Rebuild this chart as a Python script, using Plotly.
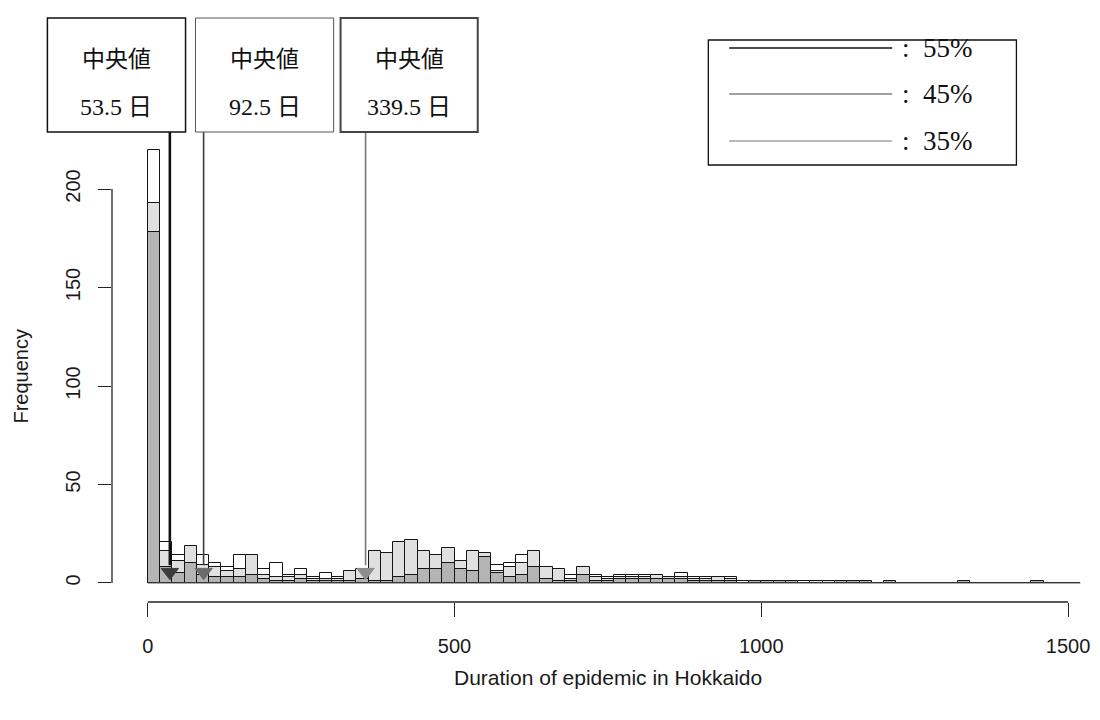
import plotly.graph_objects as go

# ---------------- data ----------------
bin_width = 20
bin_starts = list(range(0, 1520, 20))          # 76 bins, 0..1520

# three overlaid histograms (drawn in this order; later ones cover earlier ones)
freq_white = [220, 21, 14, 12, 14, 10, 8, 14, 8, 7,
              10, 4, 7, 3, 5, 3, 4, 3, 3, 2,
              4, 5, 3, 3, 4, 3, 3, 4, 9, 10,
              14, 6, 4, 3, 4, 3, 4, 3, 4, 4,
              4, 3, 3, 5, 3, 3, 3, 3, 1, 1,
              1, 1, 0, 1, 1, 1, 1, 0, 0, 0,
              0, 0, 0, 0, 0, 0, 0, 0, 0, 0,
              0, 0, 0, 0, 0, 0]
freq_light = [193, 16, 11, 19, 9, 8, 6, 7, 14, 4,
              3, 3, 4, 2, 2, 2, 6, 7, 16, 15,
              21, 22, 16, 14, 18, 11, 16, 15, 6, 8,
              10, 16, 8, 7, 2, 8, 3, 2, 3, 3,
              3, 4, 3, 3, 2, 2, 3, 2, 0, 0,
              0, 0, 0, 0, 1, 1, 0, 0, 0, 0,
              0, 0, 0, 0, 0, 0, 0, 0, 0, 0,
              0, 0, 0, 0, 0, 0]
freq_dark = [178, 8, 5, 10, 4, 3, 3, 3, 4, 2,
             1, 1, 2, 1, 1, 1, 1, 2, 1, 1,
             3, 4, 7, 7, 10, 7, 6, 13, 5, 3,
             4, 8, 2, 1, 1, 4, 1, 1, 2, 2,
             2, 2, 2, 2, 1, 1, 1, 1, 0, 1,
             1, 1, 1, 0, 0, 0, 1, 1, 1, 0,
             1, 0, 0, 0, 0, 0, 1, 0, 0, 0,
             0, 0, 1, 0, 0, 0]

median_title = "中央値"
median_labels = ["53.5 日", "92.5 日", "339.5 日"]
arrow_x = [36, 91, 355]                      # where the arrows point on the x axis
legend_labels = [": 55%", ": 45%", ": 35%"]
x_ticks = [0, 500, 1000, 1500]
y_ticks = [0, 50, 100, 150, 200]
x_title = "Duration of epidemic in Hokkaido"
y_title = "Frequency"

# ---------------- layout geometry ----------------
W, H = 1100, 720
ML, MR, MT, MB = 112, 10, 10, 118
PW, PH = W - ML - MR, H - MT - MB
X_RANGE = [-58.3, 1525.9]
Y_RANGE = [-9.65, 290.9]


def px(xpix):
    return (xpix - ML) / PW


def py(ypix):
    return (H - MB - ypix) / PH


def vx(v):
    return (v - X_RANGE[0]) / (X_RANGE[1] - X_RANGE[0])


def vy(v):
    return (v - Y_RANGE[0]) / (Y_RANGE[1] - Y_RANGE[0])


centers = [s + bin_width / 2 for s in bin_starts]

fig = go.Figure()
hist_styles = [(freq_white, "#ffffff"), (freq_light, "#e0e0e0"), (freq_dark, "#b4b4b4")]
for vals, fill in hist_styles:
    fig.add_trace(go.Bar(
        x=centers, y=vals, width=bin_width,
        marker=dict(color=fill, line=dict(color="#151515", width=1)),
        hoverinfo="x+y", showlegend=False,
    ))

arrow_line_col = ["#111111", "#3a3a3a", "#7a7a7a"]
arrow_line_w = [2.6, 1.6, 1.6]
arrow_head_col = ["#3c3c3c", "#6a6a6a", "#8e8e8e"]
box_left_px = [47, 196, 342]
box_right_px = [186, 335, 480]
box_line_col = ["#111111", "#555555", "#444444"]
box_line_w = [1.5, 1.0, 2.0]

shapes = []
annotations = []

# baseline of the (zero height) histogram cells
shapes.append(dict(type="line", xref="x", yref="y", x0=bin_starts[0],
                   x1=bin_starts[-1] + bin_width, y0=0, y1=0,
                   line=dict(color="#555555", width=1)))

for i, ax in enumerate(arrow_x):
    shapes.append(dict(type="line", xref="x", yref="y", x0=ax, x1=ax,
                       y0=9, y1=(583 - 132) / 1.97,
                       line=dict(color=arrow_line_col[i], width=arrow_line_w[i])))
    fig.add_trace(go.Scatter(
        x=[ax], y=[5.5], mode="markers",
        marker=dict(symbol="triangle-down", size=15, color=arrow_head_col[i],
                    line=dict(color=arrow_head_col[i], width=1)),
        hoverinfo="skip", showlegend=False,
    ))
    # label box
    shapes.append(dict(type="rect", xref="paper", yref="paper",
                       x0=px(box_left_px[i]), x1=px(box_right_px[i]),
                       y0=py(132), y1=py(18),
                       line=dict(color=box_line_col[i], width=box_line_w[i]),
                       fillcolor="white", layer="above"))
    cx = px((box_left_px[i] + box_right_px[i]) / 2)
    annotations.append(dict(xref="paper", yref="paper", x=cx, y=py(57),
                            text=median_title, showarrow=False,
                            xanchor="center", yanchor="middle",
                            font=dict(family="Noto Sans CJK JP", size=23, color="#111")))
    annotations.append(dict(xref="paper", yref="paper", x=cx, y=py(107),
                            text=median_labels[i].replace(" ", "\u00a0"), showarrow=False,
                            xanchor="center", yanchor="middle",
                            font=dict(family="Liberation Serif, Noto Sans CJK JP",
                                      size=24, color="#111")))

# legend box
shapes.append(dict(type="rect", xref="paper", yref="paper",
                   x0=px(712), x1=px(1022), y0=py(165), y1=py(40),
                   line=dict(color="#111111", width=1.3), fillcolor="white"))
leg_y = [48, 94, 141]
leg_col = ["#111111", "#444444", "#777777"]
leg_w = [1.5, 1.2, 1.2]
for i, lab in enumerate(legend_labels):
    shapes.append(dict(type="line", xref="paper", yref="paper",
                       x0=px(733), x1=px(897), y0=py(leg_y[i]), y1=py(leg_y[i]),
                       line=dict(color=leg_col[i], width=leg_w[i])))
    annotations.append(dict(xref="paper", yref="paper", x=px(905), y=py(leg_y[i]),
                            text=lab.replace(" ", "\u00a0\u00a0"), showarrow=False,
                            xanchor="left", yanchor="middle",
                            font=dict(family="Liberation Serif", size=27, color="#111")))

# detached R-style axis lines
shapes.append(dict(type="line", xref="paper", yref="paper",
                   x0=vx(x_ticks[0]), x1=vx(x_ticks[-1]), y0=0, y1=0,
                   line=dict(color="#222222", width=1.3)))
shapes.append(dict(type="line", xref="paper", yref="paper",
                   x0=0, x1=0, y0=vy(y_ticks[0]), y1=vy(y_ticks[-1]),
                   line=dict(color="#222222", width=1.3)))

# axis titles
annotations.append(dict(xref="paper", yref="paper", x=px(611), y=py(677), text=x_title,
                        showarrow=False, xanchor="center", yanchor="middle",
                        font=dict(family="Liberation Sans", size=21, color="#1a1a1a")))
annotations.append(dict(xref="paper", yref="paper", x=px(20), y=py(376), text=y_title,
                        showarrow=False, xanchor="center", yanchor="middle", textangle=-90,
                        font=dict(family="Liberation Sans", size=20, color="#1a1a1a")))

fig.update_layout(
    width=W, height=H,
    margin=dict(l=ML, r=MR, t=MT, b=MB, pad=0),
    paper_bgcolor="white", plot_bgcolor="white",
    barmode="overlay", bargap=0,
    showlegend=False,
    shapes=shapes, annotations=annotations,
    xaxis=dict(range=X_RANGE, tickvals=x_ticks, ticks="outside", ticklen=14,
               tickwidth=1.3, tickcolor="#222", showline=False, showgrid=False,
               zeroline=False, ticklabelstandoff=12,
               tickfont=dict(family="Liberation Sans", size=20, color="#1a1a1a")),
    yaxis=dict(range=Y_RANGE, tickvals=y_ticks, ticks="outside", ticklen=13,
               tickwidth=1.3, tickcolor="#222", showline=False, showgrid=False,
               zeroline=False, tickangle=-90, ticklabelstandoff=10,
               tickfont=dict(family="Liberation Sans", size=20, color="#1a1a1a")),
)

fig.write_html("out.html", config={"displayModeBar": False},
               post_script="document.body.style.margin='0px';")
